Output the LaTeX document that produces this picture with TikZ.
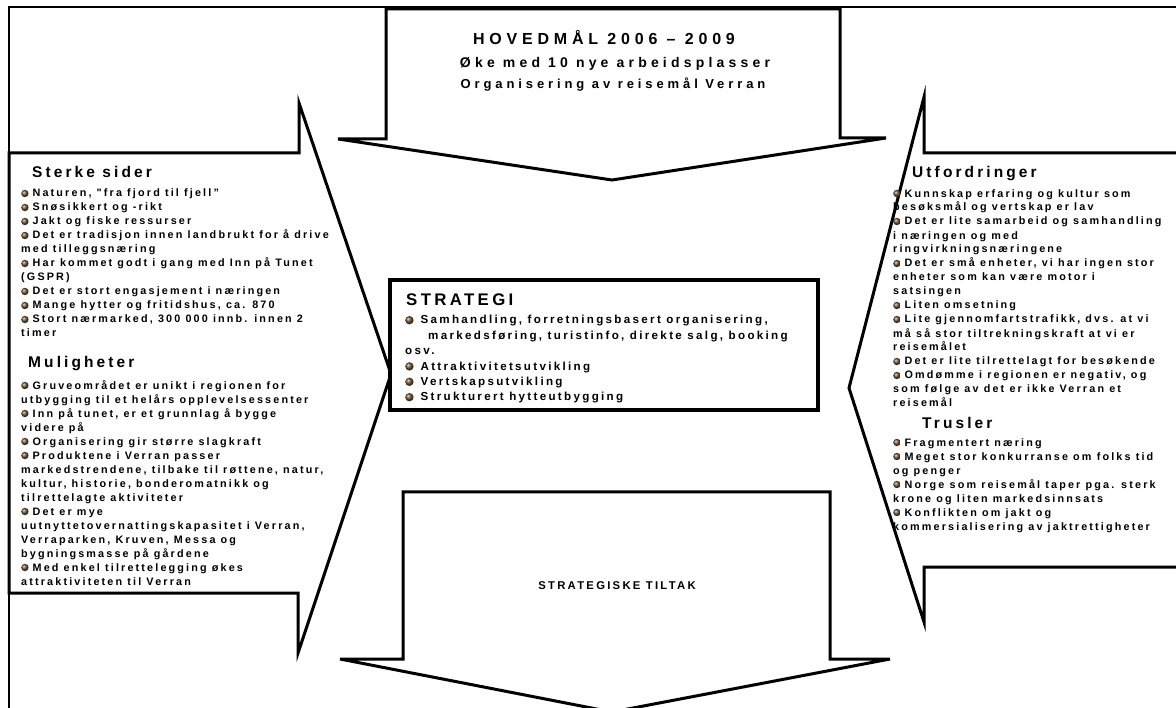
\documentclass[tikz,border=0pt]{standalone}
\usepackage{fontspec}
\setmainfont{Liberation Sans}
\newfontfamily\bodyfont{Liberation Sans}[LetterSpace=20]
\newfontfamily\headfont{Liberation Sans}[LetterSpace=30]
\usetikzlibrary{positioning}
\definecolor{bulbrown}{RGB}{105,80,50}
\newcommand{\bul}{\tikz[baseline=-3.5pt]\shade[ball color=bulbrown] (0,0) circle (3.7pt);\hspace{4pt}}
\newcommand{\bulS}{\tikz[baseline=-3.8pt]\shade[ball color=bulbrown] (0,0) circle (4.2pt);\hspace{7pt}}

\begin{document}
\begin{tikzpicture}[x=1pt,y=-1pt,line join=miter,
  callout/.style={draw=black,line width=3pt,fill=white},
  frameline/.style={draw=black,line width=2pt},
  stratbox/.style={draw=black,line width=4.5pt,fill=white},
  bodytxt/.style={anchor=base west,align=left,font=\bodyfont\bfseries\fontsize{10.8}{14}\selectfont},
  titletxt/.style={anchor=base west,font=\bodyfont\bfseries\fontsize{15.5}{18}\selectfont}]
  \tikzstyle{every node}=[inner sep=0pt,text=black]
  \useasboundingbox (0,0) rectangle (1176,708);

  % frame and the four arrows
  \draw[frameline] (9,708) -- (9,7) -- (1180,7);
  \draw[callout] (9,153) -- (299,153) -- (299,103) -- (391,374) -- (298,653) -- (298,593) -- (9,593) -- cycle;
  \draw[callout] (1185,153) -- (924,153) -- (924,97) -- (849,388) -- (924,622) -- (924,567) -- (1185,567);
  \draw[callout] (386,9) -- (840,9) -- (840,138) -- (886,138) -- (612,180) -- (338,139) -- (386,139) -- cycle;
  \draw[callout] (403,492) -- (830,492) -- (830,659) -- (890,659) -- (612,712) -- (340,659) -- (403,659) -- cycle;
  \draw[stratbox] (390,280) rectangle (818,410);

  % top
  \node[anchor=base,font=\headfont\bfseries\fontsize{16}{18}\selectfont] (hoved) at (604,45) {HOVEDMÅL 2006 – 2009};
  \node[anchor=base,font=\headfont\bfseries\fontsize{14}{16}\selectfont] (maal1) at (615,68) {Øke med 10 nye arbeidsplasser};
  \node[anchor=base,font=\headfont\bfseries\fontsize{13}{16}\selectfont] (maal2) at (613,89) {Organisering av reisemål Verran};

  % left (lists are placed by the baseline of their last line)
  \node[titletxt] (sterke) at (32,178) {Sterke sider};
  \node[bodytxt] (sterkelist) at (21,337) {%
    \bul Naturen, "fra fjord til fjell”\\
    \bul Snøsikkert og -rikt\\
    \bul Jakt og fiske ressurser\\
    \bul Det er tradisjon innen landbrukt for å drive\\
    med tilleggsnæring\\
    \bul Har kommet godt i gang med Inn på Tunet\\
    (GSPR)\\
    \bul Det er stort engasjement i næringen\\
    \bul Mange hytter og fritidshus, ca. 870\\
    \bul Stort nærmarked, 300 000 innb. innen 2\\
    timer};
  \node[titletxt] (muligheter) at (28,368) {Muligheter};
  \node[bodytxt] (mulighetlist) at (21,585) {%
    \bul Gruveområdet er unikt i regionen for\\
    utbygging til et helårs opplevelsessenter\\
    \bul Inn på tunet, er et grunnlag å bygge\\
    videre på\\
    \bul Organisering gir større slagkraft\\
    \bul Produktene i Verran passer\\
    markedstrendene, tilbake til røttene, natur,\\
    kultur, historie, bonderomatnikk og\\
    tilrettelagte aktiviteter\\
    \bul Det er mye\\
    uutnyttetovernattingskapasitet i Verran,\\
    Verraparken, Kruven, Messa og\\
    bygningsmasse på gårdene\\
    \bul Med enkel tilrettelegging økes\\
    attraktiviteten til Verran};

  % centre
  \node[anchor=base west,font=\bodyfont\bfseries\fontsize{16.8}{18}\selectfont] (strategi) at (406,306) {STRATEGI};
  \node[bodytxt,font=\bodyfont\bfseries\fontsize{11.6}{15.4}\selectfont] (strategilist) at (405,401) {%
    \bulS Samhandling, forretningsbasert organisering,\\
    \hspace*{23pt}markedsføring, turistinfo, direkte salg, booking\\
    osv.\\
    \bulS Attraktivitetsutvikling\\
    \bulS Vertskapsutvikling\\
    \bulS Strukturert hytteutbygging};

  % right
  \node[titletxt] (utfordringer) at (912,178) {Utfordringer};
  \node[bodytxt] (utfordringlist) at (893,407) {%
    \bul Kunnskap erfaring og kultur som\\
    besøksmål og vertskap er lav\\
    \bul Det er lite samarbeid og samhandling\\
    i næringen og med\\
    ringvirkningsnæringene\\
    \bul Det er små enheter, vi har ingen stor\\
    enheter som kan være motor i\\
    satsingen\\
    \bul Liten omsetning\\
    \bul Lite gjennomfartstrafikk, dvs. at vi\\
    må så stor tiltrekningskraft at vi er\\
    reisemålet\\
    \bul Det er lite tilrettelagt for besøkende\\
    \bul Omdømme i regionen er negativ, og\\
    som følge av det er ikke Verran et\\
    reisemål};
  \node[titletxt] (trusler) at (922,429) {Trusler};
  \node[bodytxt] (truslerlist) at (893,530) {%
    \bul Fragmentert næring\\
    \bul Meget stor konkurranse om folks tid\\
    og penger\\
    \bul Norge som reisemål taper pga. sterk\\
    krone og liten markedsinnsats\\
    \bul Konflikten om jakt og\\
    kommersialisering av jaktrettigheter};

  % bottom
  \node[font=\bodyfont\bfseries\fontsize{11.3}{13}\selectfont] (tiltak) at (617,586) {STRATEGISKE TILTAK};
\end{tikzpicture}
\end{document}
